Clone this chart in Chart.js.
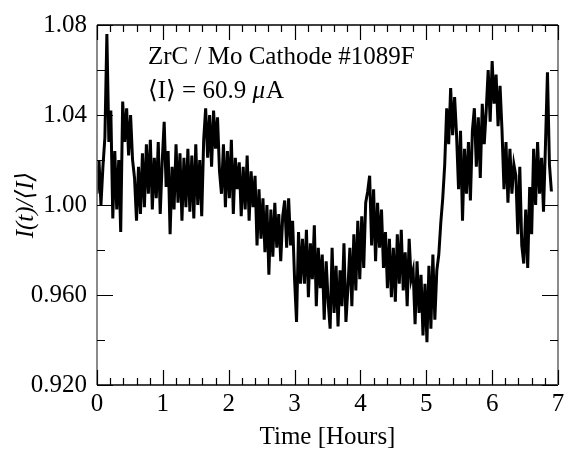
<!DOCTYPE html>
<html>
<head>
<meta charset="utf-8">
<script src="https://cdn.jsdelivr.net/npm/chart.js@4.4.1/dist/chart.umd.min.js"></script>
<style>
  html, body { margin: 0; padding: 0; background: #fff; }
  #wrap { width: 572px; height: 454px; }
</style>
</head>
<body>
<div id="wrap"><canvas id="c" width="572" height="454"></canvas></div>
<script>
// ---- data ----
const stepHours = 0.03;           // sampling interval of the record, hours
const currentRatio = [
  1.005, 1.020, 1.000, 1.017, 1.030, 1.076, 1.028, 1.042, 0.994, 1.024,
  0.998, 1.020, 0.988, 1.046, 1.028, 1.043, 1.022, 1.040, 1.020, 1.012,
  0.993, 1.017, 0.996, 1.023, 0.999, 1.027, 1.005, 1.029, 0.998, 1.021,
  1.003, 1.028, 0.996, 1.019, 1.037, 1.008, 1.024, 0.987, 1.017, 0.998,
  1.027, 1.001, 1.023, 0.993, 1.021, 0.999, 1.025, 0.997, 1.022, 0.994,
  1.027, 1.000, 1.020, 0.995, 1.029, 1.043, 1.021, 1.040, 1.017, 1.042,
  1.025, 1.039, 1.015, 1.005, 1.027, 0.999, 1.024, 1.003, 1.029, 0.996,
  1.021, 1.007, 1.019, 0.995, 1.017, 0.998, 1.022, 0.993, 1.015, 0.999,
  1.013, 0.982, 1.007, 0.985, 1.003, 0.979, 1.000, 0.969, 0.998, 0.977,
  1.001, 0.981, 0.996, 0.975, 0.995, 1.002, 0.981, 1.003, 0.982, 0.993,
  0.967, 0.948, 0.988, 0.965, 0.985, 0.965, 0.989, 0.959, 0.983, 0.967,
  0.991, 0.955, 0.981, 0.963, 0.978, 0.949, 0.975, 0.957, 0.945, 0.981,
  0.952, 0.973, 0.946, 0.971, 0.955, 0.983, 0.948, 0.963, 0.981, 0.955,
  0.987, 0.962, 0.993, 0.967, 0.995, 0.972, 1.001, 1.006, 1.013, 0.982,
  1.007, 0.975, 1.001, 0.981, 0.998, 0.972, 0.988, 0.963, 0.985, 0.959,
  0.981, 0.957, 0.987, 0.965, 0.989, 0.962, 0.979, 0.955, 0.985, 0.967,
  0.971, 0.947, 0.975, 0.952, 0.969, 0.942, 0.965, 0.939, 0.973, 0.945,
  0.978, 0.949, 0.971, 0.978, 0.992, 1.003, 1.018, 1.043, 1.027, 1.052,
  1.031, 1.048, 1.031, 1.007, 1.033, 0.993, 1.025, 1.005, 1.028, 1.002,
  1.033, 1.043, 1.017, 1.039, 1.012, 1.045, 1.027, 1.042, 1.060, 1.037,
  1.064, 1.045, 1.058, 1.035, 1.053, 1.033, 1.007, 1.028, 1.001, 1.025,
  1.005, 1.018, 1.013, 0.987, 1.017, 0.982, 0.974, 0.998, 0.972, 1.008,
  0.987, 1.025, 1.000, 1.028, 1.005, 1.021, 0.997, 1.027, 1.059, 1.018,
  1.006
];
const xTickLabels = ['0', '1', '2', '3', '4', '5', '6', '7'];
const yTickLabels = ['0.920', '0.960', '1.00', '1.04', '1.08'];
const annotationLine1 = 'ZrC / Mo Cathode #1089F';
const annotationLine2a = '\u27E8I\u27E9 = 60.9 ';
const annotationLine2mu = '\u03BC';
const annotationLine2b = 'A';
const xTitle = 'Time [Hours]';
const yTitle = 'I(t)/\u27E8I\u27E9';

const points = currentRatio.map((v, i) => ({ x: i * stepHours, y: v }));

const SERIF = "'Liberation Serif', 'Times New Roman', 'DejaVu Serif', serif";

const frameTicks = {
  id: 'frameTicks',
  afterDatasetsDraw(chart) {
    const { ctx, chartArea: a, scales } = chart;
    const xs = scales.x, ys = scales.y;
    ctx.save();
    // frame
    ctx.lineWidth = 1.6;
    ctx.strokeStyle = '#000';
    ctx.beginPath();
    ctx.moveTo(a.left, a.top); ctx.lineTo(a.right, a.top);
    ctx.moveTo(a.left, a.bottom); ctx.lineTo(a.right, a.bottom);
    ctx.stroke();
    ctx.strokeStyle = '#6e6e6e';
    ctx.beginPath();
    ctx.moveTo(a.left, a.top); ctx.lineTo(a.left, a.bottom);
    ctx.moveTo(a.right, a.top); ctx.lineTo(a.right, a.bottom);
    ctx.stroke();
    // ticks
    ctx.strokeStyle = '#000';
    ctx.lineWidth = 1.2;
    ctx.beginPath();
    for (let k = 0; k <= 35; k++) {
      const v = k * 0.2;
      const px = Math.round(xs.getPixelForValue(v)) + 0.5;
      const len = (k % 5 === 0) ? 15 : 7;
      ctx.moveTo(px, a.bottom); ctx.lineTo(px, a.bottom - len);
      ctx.moveTo(px, a.top); ctx.lineTo(px, a.top + len);
    }
    for (let k = 0; k <= 8; k++) {
      const v = 0.92 + k * 0.02;
      const py = Math.round(ys.getPixelForValue(v)) + 0.5;
      const len = (k % 2 === 0) ? 16 : 8;
      ctx.moveTo(a.left, py); ctx.lineTo(a.left + len, py);
      ctx.moveTo(a.right, py); ctx.lineTo(a.right - len, py);
    }
    ctx.stroke();
    // annotation
    ctx.fillStyle = '#000';
    ctx.textBaseline = 'alphabetic';
    ctx.textAlign = 'left';
    ctx.font = '25px ' + SERIF;
    const tx = a.left + 51;
    ctx.fillText(annotationLine1, tx, a.top + 39);
    let x2 = tx;
    const y2 = a.top + 73;
    ctx.fillText(annotationLine2a, x2, y2);
    x2 += ctx.measureText(annotationLine2a).width;
    ctx.font = 'italic 25px ' + SERIF;
    ctx.fillText(annotationLine2mu, x2, y2);
    x2 += ctx.measureText(annotationLine2mu).width + 1;
    ctx.font = '25px ' + SERIF;
    ctx.fillText(annotationLine2b, x2, y2);
    ctx.restore();
  }
};

new Chart(document.getElementById('c'), {
  type: 'line',
  data: {
    datasets: [{
      data: points,
      borderColor: '#000',
      borderWidth: 3,
      pointRadius: 0,
      tension: 0,
      fill: false
    }]
  },
  options: {
    responsive: false,
    animation: false,
    devicePixelRatio: 1,
    layout: { padding: { top: 16, right: 14, left: 0, bottom: 0 } },
    plugins: { legend: { display: false }, tooltip: { enabled: false } },
    scales: {
      x: {
        type: 'linear',
        min: 0, max: 7,
        grid: { display: false, drawTicks: false },
        border: { display: false },
        ticks: {
          stepSize: 1,
          padding: 4,
          color: '#000',
          font: { family: SERIF, size: 25 },
          maxRotation: 0,
          callback: (v, i) => xTickLabels[i]
        },
        title: {
          display: true, text: xTitle, color: '#000',
          font: { family: SERIF, size: 25 },
          padding: { top: 0, bottom: 2 }
        },
        afterFit: (s) => { s.height = 69; }
      },
      y: {
        type: 'linear',
        min: 0.92, max: 1.08,
        grid: { display: false, drawTicks: false },
        border: { display: false },
        ticks: {
          stepSize: 0.04,
          padding: 10,
          color: '#000',
          font: { family: SERIF, size: 25 },
          callback: (v, i) => yTickLabels[i]
        },
        title: {
          display: true, text: yTitle, color: '#000',
          font: { family: SERIF, size: 25, style: 'italic' },
          padding: { top: 11, bottom: 0 }
        },
        afterFit: (s) => { s.width = 97; }
      }
    }
  },
  plugins: [frameTicks]
});
</script>
</body>
</html>
